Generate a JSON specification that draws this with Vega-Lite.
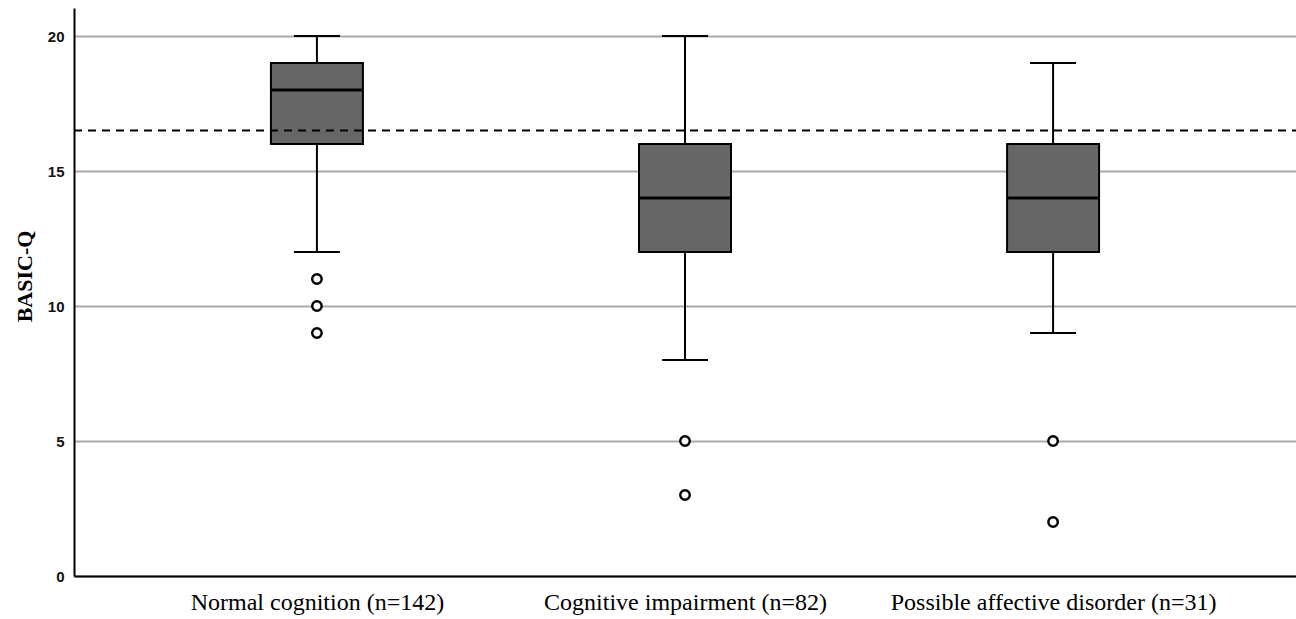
{
  "$schema": "https://vega.github.io/schema/vega-lite/v6.json",
  "width": 1222,
  "height": 568,
  "autosize": {"type": "none"},
  "padding": {"left": 74, "top": 8, "right": 0, "bottom": 43},
  "background": "white",
  "config": {"view": {"stroke": null}},
  "datasets": {
    "boxes": [
      {"group": "Normal cognition (n=142)", "lower": 12, "q1": 16, "median": 18, "q3": 19, "upper": 20},
      {"group": "Cognitive impairment (n=82)", "lower": 8, "q1": 12, "median": 14, "q3": 16, "upper": 20},
      {"group": "Possible affective disorder (n=31)", "lower": 9, "q1": 12, "median": 14, "q3": 16, "upper": 19}
    ],
    "outliers": [
      {"group": "Normal cognition (n=142)", "value": 11},
      {"group": "Normal cognition (n=142)", "value": 10},
      {"group": "Normal cognition (n=142)", "value": 9},
      {"group": "Cognitive impairment (n=82)", "value": 5},
      {"group": "Cognitive impairment (n=82)", "value": 3},
      {"group": "Possible affective disorder (n=31)", "value": 5},
      {"group": "Possible affective disorder (n=31)", "value": 2}
    ],
    "cutoff": [{"value": 16.5}]
  },
  "encoding": {
    "x": {
      "field": "group",
      "type": "nominal",
      "sort": ["Normal cognition (n=142)", "Cognitive impairment (n=82)", "Possible affective disorder (n=31)"],
      "scale": {"type": "point", "padding": 0.66},
      "axis": {
        "title": null,
        "labelAngle": 0,
        "labelLimit": 0,
        "ticks": false,
        "labelPadding": 14,
        "labelFont": "Liberation Serif",
        "labelFontSize": 24,
        "labelColor": "#000",
        "domainColor": "#000",
        "domainWidth": 2,
        "grid": false
      }
    }
  },
  "layer": [
    {
      "data": {"name": "boxes"},
      "mark": {"type": "rule", "color": "#000", "strokeWidth": 2, "opacity": 1},
      "encoding": {
        "y": {
          "field": "lower",
          "type": "quantitative",
          "scale": {"domain": [0, 21.04], "nice": false, "zero": true},
          "axis": {
            "title": "BASIC-Q",
            "titleFont": "Liberation Serif",
            "titleFontSize": 22,
            "titleFontWeight": "bold",
            "titleColor": "#000",
            "titleX": -43,
            "titleY": 268,
            "titleBaseline": "alphabetic",
            "titleAngle": -90,
            "titleAlign": "center",
            "values": [0, 5, 10, 15, 20],
            "ticks": false,
            "labelPadding": 10,
            "labelFont": "Liberation Sans",
            "labelFontSize": 15,
            "labelFontWeight": "bold",
            "labelColor": "#111",
            "domainColor": "#000",
            "domainWidth": 2,
            "grid": true,
            "gridColor": "#aaaaaa",
            "gridWidth": 2
          }
        },
        "y2": {"field": "upper"}
      }
    },
    {
      "data": {"name": "boxes"},
      "mark": {"type": "tick", "color": "#000", "opacity": 1, "thickness": 2, "size": 46, "orient": "horizontal"},
      "encoding": {"y": {"field": "lower", "type": "quantitative"}}
    },
    {
      "data": {"name": "boxes"},
      "mark": {"type": "tick", "color": "#000", "opacity": 1, "thickness": 2, "size": 46, "orient": "horizontal"},
      "encoding": {"y": {"field": "upper", "type": "quantitative"}}
    },
    {
      "data": {"name": "boxes"},
      "mark": {"type": "bar", "size": 92, "fill": "#666666", "opacity": 1, "stroke": "#000", "strokeWidth": 2},
      "encoding": {
        "y": {"field": "q1", "type": "quantitative"},
        "y2": {"field": "q3"}
      }
    },
    {
      "data": {"name": "boxes"},
      "mark": {"type": "tick", "color": "#000", "opacity": 1, "thickness": 3, "size": 92, "orient": "horizontal"},
      "encoding": {"y": {"field": "median", "type": "quantitative"}}
    },
    {
      "data": {"name": "cutoff"},
      "mark": {"type": "rule", "color": "#000", "strokeWidth": 2, "strokeDash": [8, 6]},
      "encoding": {"y": {"field": "value", "type": "quantitative"}, "x": {"value": 0}, "x2": {"value": 1222}}
    },
    {
      "data": {"name": "outliers"},
      "mark": {"type": "point", "shape": "circle", "size": 90, "filled": false, "fill": "white", "fillOpacity": 1, "stroke": "#000", "strokeWidth": 2.4, "opacity": 1},
      "encoding": {"y": {"field": "value", "type": "quantitative"}}
    }
  ]
}
